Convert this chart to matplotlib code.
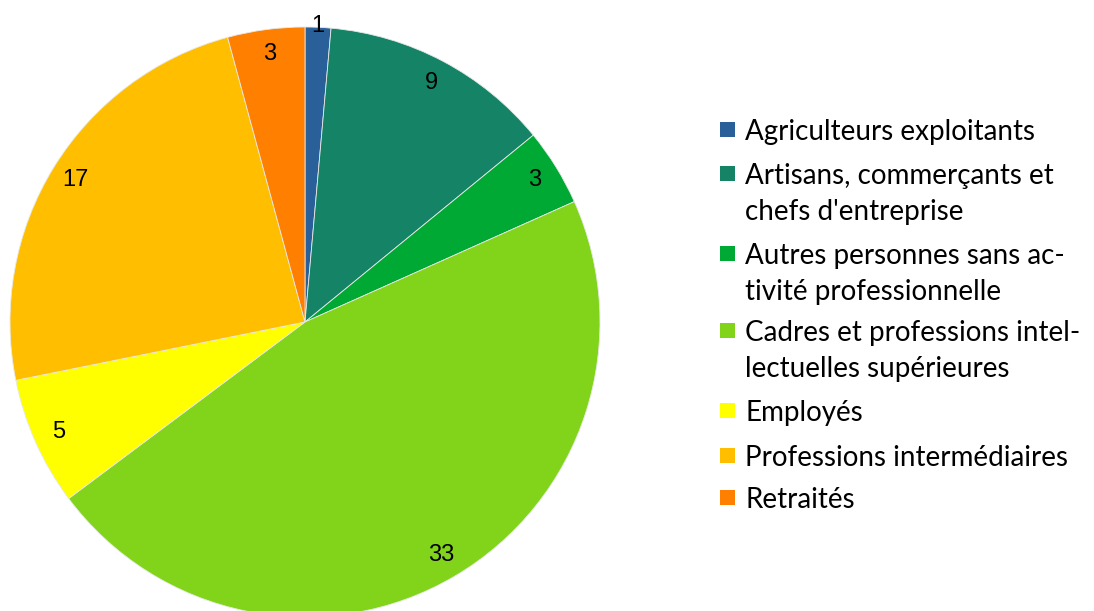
import matplotlib.pyplot as plt
import numpy as np
from matplotlib.patches import Rectangle

categories = ['Agriculteurs exploitants',
              'Artisans, commerçants et\nchefs d\'entreprise',
              'Autres personnes sans ac-\ntivité professionnelle',
              'Cadres et professions intel-\nlectuelles supérieures',
              'Employés',
              'Professions intermédiaires',
              'Retraités']
values = [1, 9, 3, 33, 5, 17, 3]
colors = ['#2a6099', '#158466', '#00a933', '#81d41a', '#ffff00', '#ffbf00', '#ff8000']

W, H = 1094, 611
figure = plt.figure(figsize=(W / 100, H / 100), dpi=100)

# pie centre (305, 322) px, radius 295 px
cx, cy, r = 305, 322, 295
axes = figure.add_axes([(cx - r) / W, (H - cy - r) / H, 2 * r / W, 2 * r / H])
axes.axis('off')

wedges, _ = axes.pie(values, colors=colors, startangle=90, counterclock=False,
                     radius=1.0, wedgeprops=dict(edgecolor='#e8e8e8', linewidth=0.6))
axes.set_xlim(-1, 1)
axes.set_ylim(-1, 1)
axes.set_aspect('equal')

# value labels inside the wedges, small slice pushed outward
for wedge, value in zip(wedges, values):
    mid = np.deg2rad(0.5 * (wedge.theta1 + wedge.theta2))
    dist = 1.005 if value / sum(values) < 0.02 else 0.915
    axes.text(dist * np.cos(mid), dist * np.sin(mid), str(value), ha='center', va='center',
              fontsize=17, family='Liberation Sans', color='black')

# legend drawn by hand (baseline of first line of each entry, px from top)
baselines = [140, 184, 264, 341, 421, 466, 508]
for label, color, y in zip(categories, colors, baselines):
    figure.patches.append(Rectangle((720 / W, 1 - (y - 3) / H), 15 / W, 15 / H,
                                    transform=figure.transFigure, facecolor=color,
                                    edgecolor='none'))
    lines = label.split('\n')
    for i, line in enumerate(lines):
        figure.text(745 / W, 1 - (y + 36 * i) / H, line, ha='left', va='baseline',
                    fontsize=20, family='Lato')

figure.savefig('out.png', dpi=100)
